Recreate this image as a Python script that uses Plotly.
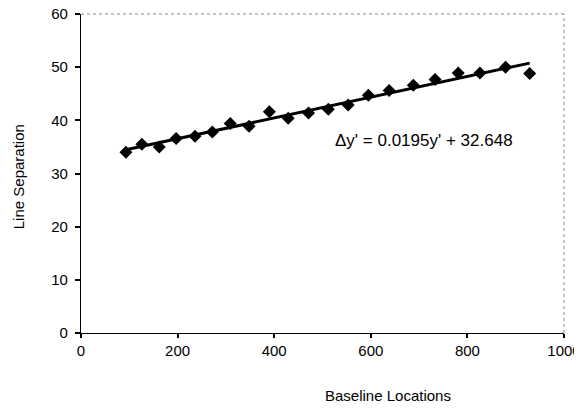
import plotly.graph_objects as go

# Data
baseline_locations = [93, 126, 162, 197, 236, 272, 309, 348, 390, 429, 471,
                      512, 553, 595, 638, 688, 733, 781, 826, 879, 929]
line_separation = [34.0, 35.5, 35.0, 36.6, 37.0, 37.8, 39.4, 38.9, 41.6, 40.4, 41.4,
                   42.1, 42.9, 44.7, 45.6, 46.6, 47.7, 48.9, 48.9, 50.0, 48.8]

trend_slope = 0.0195
trend_intercept = 32.648
equation_text = "Δy' = 0.0195y' + 32.648"

x_ticks = [0, 200, 400, 600, 800, 1000]
y_ticks = [0, 10, 20, 30, 40, 50, 60]

FONT = "Liberation Sans, Arial, sans-serif"

trend_x = [min(baseline_locations), max(baseline_locations)]
trend_y = [trend_slope * v + trend_intercept for v in trend_x]

fig = go.Figure()
fig.add_trace(go.Scatter(
    x=baseline_locations, y=line_separation, mode="markers",
    marker=dict(symbol="diamond", size=10, color="black"),
    showlegend=False, hoverinfo="x+y"))
fig.add_trace(go.Scatter(
    x=trend_x, y=trend_y, mode="lines",
    line=dict(color="black", width=3),
    showlegend=False, hoverinfo="skip"))

# page body has an 8px default margin; figure is sized to fit inside the window
fig.update_layout(
    width=574, height=395,
    margin=dict(l=73, r=18, t=6, b=70, pad=0, autoexpand=False),
    paper_bgcolor="white", plot_bgcolor="white",
    font=dict(family=FONT, size=15, color="black"),
    xaxis=dict(range=[0, 1000], tickvals=x_ticks, showgrid=False, zeroline=False,
               showline=True, linecolor="black", linewidth=1.2,
               ticks="outside", ticklen=4, tickcolor="black", tickwidth=1.5,
               ticklabeloverflow="allow", automargin=False,
               tickfont=dict(family=FONT, size=15)),
    yaxis=dict(range=[0, 60], tickvals=y_ticks, showgrid=False, zeroline=False,
               showline=True, linecolor="black", linewidth=1.2,
               ticks="outside", ticklen=5, tickcolor="black", tickwidth=1.5,
               ticklabelstandoff=4, ticklabeloverflow="allow", automargin=False,
               tickfont=dict(family=FONT, size=15)),
    shapes=[
        dict(type="line", xref="paper", yref="paper", x0=0, x1=1, y0=1, y1=1,
             line=dict(color="#888888", width=1, dash="dot")),
        dict(type="line", xref="paper", yref="paper", x0=1, x1=1, y0=0, y1=1,
             line=dict(color="#888888", width=1, dash="dot")),
    ],
    annotations=[
        dict(text=equation_text, xref="x", yref="y", x=710, y=36.3,
             showarrow=False, xanchor="center", yanchor="middle",
             font=dict(family=FONT, size=17)),
        dict(text="Baseline Locations", xref="paper", yref="paper",
             x=0.636, y=-0.197, showarrow=False, xanchor="center", yanchor="middle",
             font=dict(family=FONT, size=15)),
        dict(text="Line Separation", xref="paper", yref="paper",
             x=-0.130, y=0.489, showarrow=False, xanchor="center", yanchor="middle",
             textangle=-90, font=dict(family=FONT, size=15)),
    ],
)

fig.write_html("out.html")
